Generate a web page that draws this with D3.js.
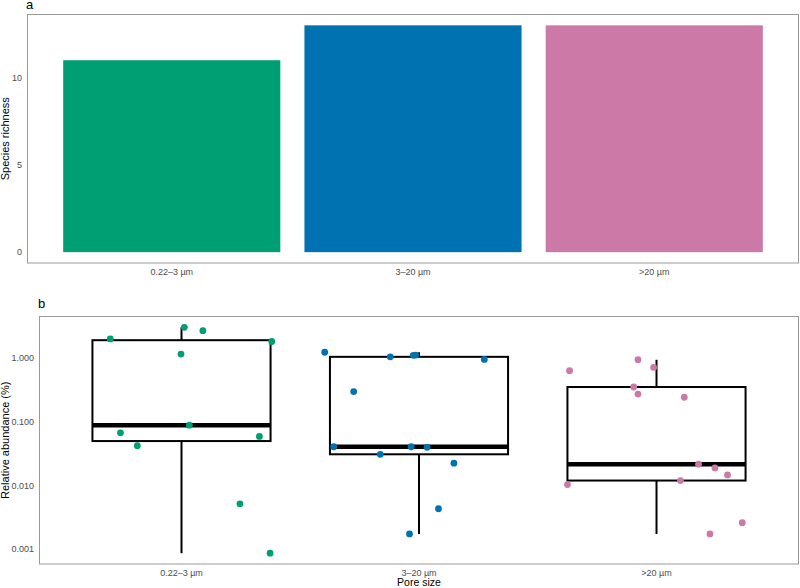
<!DOCTYPE html>
<html><head><meta charset="utf-8">
<script src="https://cdn.jsdelivr.net/npm/d3@7"></script>
<style>body{margin:0;background:#fff}text{font-family:"Liberation Sans",Arial,sans-serif}</style>
</head><body><svg id="c" width="800" height="588"></svg>
<script>
const categories = ["0.22\u20133 \u00b5m", "3\u201320 \u00b5m", ">20 \u00b5m"];
const colors = ["#009E73", "#0072B2", "#CC79A7"];
const richness = [11, 13, 13];
const richTicks = [0, 5, 10];
const abundTicks = [0.001, 0.01, 0.1, 1];

const greenValues = [2.01, 3.06, 2.71, 1.83, 1.16, 0.0885, 0.067, 0.0589, 0.042, 0.00513, 0.000857];
const greenJitter = [-0.300, 0.012, 0.090, 0.380, -0.002, 0.033, -0.257, 0.328, -0.186, 0.246, 0.373];
const blueValues = [1.24, 1.05, 1.11, 1.12, 0.955, 0.298, 0.0405, 0.0405, 0.0396, 0.0308, 0.0223, 0.00429, 0.00172];
const blueJitter = [-0.397, -0.121, -0.024, -0.014, 0.275, -0.275, -0.359, -0.033, 0.034, -0.163, 0.147, 0.082, -0.040];
const pinkValues = [0.635, 0.944, 0.715, 0.352, 0.273, 0.243, 0.0215, 0.0188, 0.0146, 0.0119, 0.0103, 0.00259, 0.00172];
const pinkJitter = [-0.366, -0.078, -0.012, -0.096, -0.078, 0.117, 0.177, 0.246, 0.299, 0.101, -0.375, 0.361, 0.225];

const groups = [
  {cat: categories[0], color: colors[0], values: greenValues, jitter: greenJitter},
  {cat: categories[1], color: colors[1], values: blueValues, jitter: blueJitter},
  {cat: categories[2], color: colors[2], values: pinkValues, jitter: pinkJitter}
];

const svg = d3.select("#c");
const tickCol = "#4d4d4d", borderCol = "#9a9a9a";

// ---------- Panel a ----------
const A = {l: 27, r: 799, t: 14, b: 263.5};
const xA = d3.scaleLinear().domain([0.4, 3.6]).range([A.l, A.r]);
const unitA = xA(2) - xA(1);
const yA = d3.scaleLinear().domain([-d3.max(richness)*0.05, d3.max(richness)*1.05]).range([A.b, A.t]);

svg.append("text").attr("x", A.l - 1).attr("y", 9).attr("font-size", 13).attr("fill", "#000").text("a");
const gA = svg.append("g");
gA.selectAll("rect.bar").data(richness).join("rect")
  .attr("x", (d,i) => xA(i + 1 - 0.45))
  .attr("width", unitA*0.9)
  .attr("y", d => yA(d))
  .attr("height", d => yA(0) - yA(d))
  .attr("fill", (d,i) => colors[i]);
gA.append("rect").attr("x", A.l+0.5).attr("y", A.t+0.5).attr("width", A.r-A.l-1).attr("height", A.b-A.t-1)
  .attr("fill", "none").attr("stroke", borderCol).attr("stroke-width", 1);
gA.selectAll("text.yt").data(richTicks).join("text")
  .attr("x", A.l - 5).attr("y", d => yA(d)).attr("dy", "0.35em").attr("text-anchor", "end")
  .attr("font-size", 9).attr("fill", tickCol).text(d => d);
gA.selectAll("text.xt").data(categories).join("text")
  .attr("x", (d,i) => xA(i + 1)).attr("y", A.b + 11.5).attr("text-anchor", "middle")
  .attr("font-size", 9).attr("fill", tickCol).text(d => d);
svg.append("text").attr("transform", `translate(9,${(A.t+A.b)/2}) rotate(-90)`)
  .attr("text-anchor", "middle").attr("font-size", 11).attr("fill", "#000").text("Species richness");

// ---------- Panel b ----------
const B = {l: 39, r: 799, t: 316, b: 564.5};
const xB = d3.scaleLinear().domain([0.4, 3.6]).range([B.l, B.r]);
const unitB = xB(2) - xB(1);
const allVals = groups.flatMap(g => g.values);
const lmin = Math.log10(d3.min(allVals)), lmax = Math.log10(d3.max(allVals));
const pad = (lmax - lmin) * 0.05;
const yB = d3.scaleLog().domain([Math.pow(10, lmin - pad), Math.pow(10, lmax + pad)]).range([B.b, B.t]);

svg.append("text").attr("x", B.l - 1).attr("y", 308).attr("font-size", 13).attr("fill", "#000").text("b");
const gB = svg.append("g");

groups.forEach((g, i) => {
  const logs = g.values.map(Math.log10).sort(d3.ascending);
  const q1 = d3.quantileSorted(logs, 0.25), med = d3.quantileSorted(logs, 0.5), q3 = d3.quantileSorted(logs, 0.75);
  const iqr = q3 - q1;
  const lo = d3.min(logs.filter(v => v >= q1 - 1.5*iqr)), hi = d3.max(logs.filter(v => v <= q3 + 1.5*iqr));
  const c = xB(i + 1), hw = unitB * 0.375;
  const P = v => yB(Math.pow(10, v));
  gB.append("line").attr("x1", c).attr("x2", c).attr("y1", P(hi)).attr("y2", P(q3)).attr("stroke", "#000").attr("stroke-width", 2);
  gB.append("line").attr("x1", c).attr("x2", c).attr("y1", P(q1)).attr("y2", P(lo)).attr("stroke", "#000").attr("stroke-width", 2);
  gB.append("rect").attr("x", c - hw).attr("width", 2*hw).attr("y", P(q3)).attr("height", P(q1) - P(q3))
    .attr("fill", "#fff").attr("stroke", "#000").attr("stroke-width", 2);
  gB.append("line").attr("x1", c - hw).attr("x2", c + hw).attr("y1", P(med)).attr("y2", P(med)).attr("stroke", "#000").attr("stroke-width", 4.5);
});

groups.forEach((g, i) => {
  gB.selectAll(null).data(g.values).join("circle")
    .attr("cx", (d,j) => xB(i + 1 + g.jitter[j]))
    .attr("cy", d => yB(d))
    .attr("r", 3.4)
    .attr("fill", g.color);
});

gB.append("rect").attr("x", B.l+0.5).attr("y", B.t+0.5).attr("width", B.r-B.l-1).attr("height", B.b-B.t-1)
  .attr("fill", "none").attr("stroke", borderCol).attr("stroke-width", 1);
gB.selectAll("text.yt").data(abundTicks).join("text")
  .attr("x", B.l - 5).attr("y", d => yB(d)).attr("dy", "0.35em").attr("text-anchor", "end")
  .attr("font-size", 9).attr("fill", tickCol).text(d => d3.format(".3f")(d));
gB.selectAll("text.xt").data(categories).join("text")
  .attr("x", (d,i) => xB(i + 1)).attr("y", B.b + 11).attr("text-anchor", "middle")
  .attr("font-size", 9).attr("fill", tickCol).text(d => d);
svg.append("text").attr("x", (B.l + B.r)/2).attr("y", 586).attr("text-anchor", "middle")
  .attr("font-size", 10.5).attr("fill", "#000").text("Pore size");
svg.append("text").attr("transform", `translate(9,${(B.t+B.b)/2}) rotate(-90)`)
  .attr("text-anchor", "middle").attr("font-size", 11).attr("fill", "#000").text("Relative abundance (%)");
</script></body></html>
